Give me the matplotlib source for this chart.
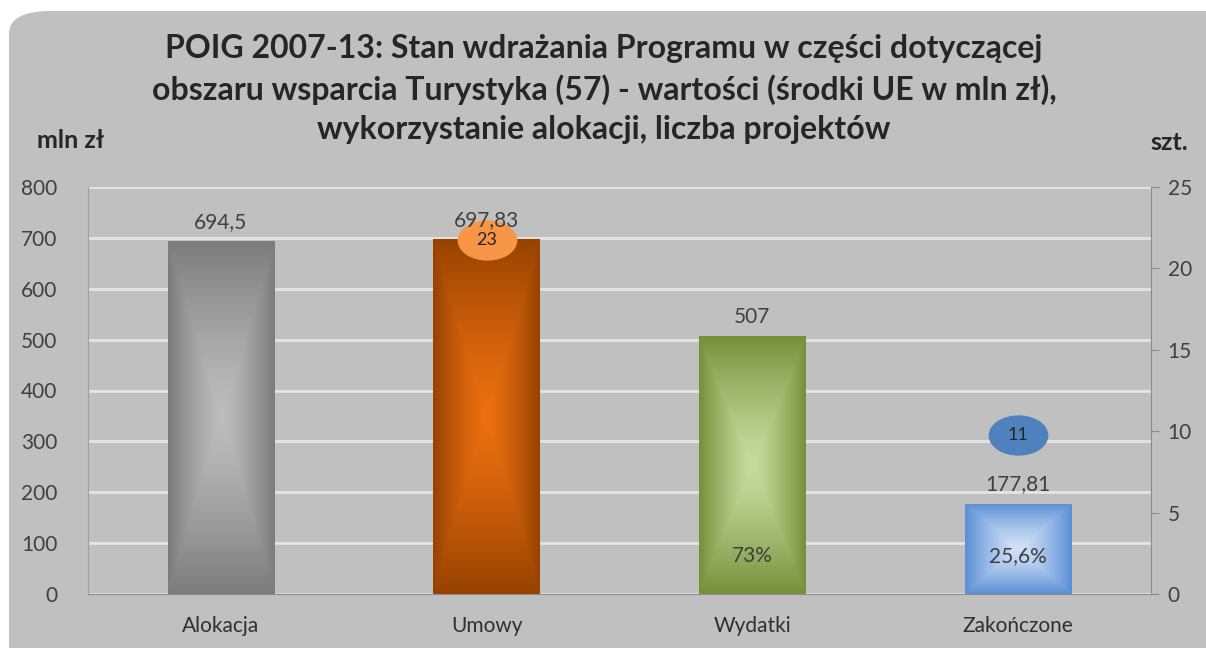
import numpy as np
import matplotlib.pyplot as plt
from matplotlib.colors import LinearSegmentedColormap
from matplotlib.patches import FancyBboxPatch
from matplotlib.path import Path
from matplotlib.transforms import Affine2D, offset_copy

plt.rcParams['font.family'] = ['Lato', 'DejaVu Sans']

categories = ['Alokacja', 'Umowy', 'Wydatki', 'Zakończone']
values = [694.5, 697.83, 507, 177.81]          # mln zł
shares = [None, None, 73, 25.6]                 # % alokacji
projects = [None, 23, None, 11]                 # szt.

edge_cols = ['#7c7c7c', '#974200', '#75913a', '#5a8fd6']
mid_cols = ['#bdbdbd', '#ec7010', '#c8db9f', '#d2e2f6']

title = ('POIG 2007-13: Stan wdrażania Programu w części dotyczącej\n'
         'obszaru wsparcia Turystyka (57) - wartości (środki UE w mln zł),\n'
         'wykorzystanie alokacji, liczba projektów')

W, H = 1206, 648
fig = plt.figure(figsize=(W/100, H/100), dpi=100)
fig.patch.set_facecolor('white')

# grey rounded panel behind everything
panel = FancyBboxPatch((9/W, -0.05), 1.2, 1.05 - 11/H,
                       boxstyle='round,pad=0,rounding_size=0.035',
                       transform=fig.transFigure, facecolor='#c0c0c0',
                       edgecolor='none', zorder=-10)
fig.patches.append(panel)

ax = fig.add_axes([88/W, 1-594/H, (1151-88)/W, (594-187)/H])
ax.set_facecolor('none')
ax2 = ax.twinx()

x = np.arange(len(categories))
bw = 0.4

ax.yaxis.grid(True, color='#e4e4e4', linewidth=2)
ax.set_axisbelow(True)

# bars with rectangular "from centre" gradient
n = 200
u = np.linspace(-1, 1, n)
gx, gy = np.meshgrid(u, u)
t = np.maximum(np.abs(gx), np.abs(gy)) ** 1.3
bars = ax.bar(x, values, width=bw, color='none', edgecolor='none', zorder=2)
for b, v, e, m in zip(bars, values, edge_cols, mid_cols):
    cmap = LinearSegmentedColormap.from_list('g', [m, e])
    x0 = b.get_x()
    im = ax.imshow(t, cmap=cmap, vmin=0, vmax=1, aspect='auto', origin='lower',
                   extent=(x0, x0 + bw, 0, v), zorder=2, interpolation='bilinear')
    im.set_clip_path(b)

ax.set_xlim(-0.5, 3.5)
ax.set_ylim(0, 800)
ax.set_yticks(np.arange(0, 801, 100))
ax2.set_ylim(0, 25)
ax2.set_yticks(np.arange(0, 26, 5))

# ellipse markers for number of projects (sit slightly below the value, as in Excel)
ell = Path.unit_circle().transformed(Affine2D().scale(1.5, 1.0))
proj_cols = ['#f79646', '#f79646', '#4f81bd', '#4f81bd']
tr = offset_copy(ax2.transData, fig=fig, x=0, y=-20, units='dots')
for xi, p, c in zip(x, projects, proj_cols):
    if p is None:
        continue
    ax2.plot(xi, p, marker=ell, markersize=42, color=c, linestyle='none',
             zorder=6, transform=tr)
    ax2.text(xi, p, str(p), ha='center', va='center', fontsize=13,
             color='#262626', zorder=7, transform=tr)

# value labels drawn on the top axes so they stay above the ellipses
for xi, v in zip(x, values):
    lab = f'{v:g}'.replace('.', ',')
    ax2.annotate(lab, (xi, v), xycoords=ax.transData, xytext=(0, 9),
                 textcoords='offset pixels', ha='center', va='bottom',
                 fontsize=15, color='#404040', zorder=8)

for xi, s in zip(x, shares):
    if s is None:
        continue
    lab = f'{s:g}'.replace('.', ',') + '%'
    ax.annotate(lab, (xi, 0), xytext=(0, 38), textcoords='offset pixels',
                ha='center', va='center', fontsize=15, color='#404040', zorder=5)

ax.set_xticks(x)
ax.set_xticklabels(categories)
for a in (ax, ax2):
    for s in ('top', 'left', 'right', 'bottom'):
        a.spines[s].set_visible(False)
ax.spines['bottom'].set_visible(True)
ax.spines['bottom'].set_color('#8c8c8c')
ax.spines['left'].set_visible(True)
ax.spines['left'].set_color('#a0a0a0')
ax2.spines['right'].set_visible(True)
ax2.spines['right'].set_color('#8c8c8c')

ax.tick_params(axis='x', length=0, pad=16, labelsize=15, labelcolor='#303030')
ax.tick_params(axis='y', length=0, pad=22, labelsize=15, labelcolor='#404040')
ax2.tick_params(axis='y', length=6, color='#8c8c8c', pad=6, labelsize=15,
                labelcolor='#404040')

fig.text(604/W, 1 - 89/H, title, ha='center', va='center', fontsize=23,
         fontweight='bold', color='#262626', linespacing=1.42)
fig.text(71/W, 1 - 141/H, 'mln zł', ha='center', va='center', fontsize=18,
         fontweight='bold', color='#262626')
fig.text(1169/W, 1 - 143/H, 'szt.', ha='center', va='center', fontsize=18,
         fontweight='bold', color='#262626')

fig.savefig('out.png', dpi=100)
